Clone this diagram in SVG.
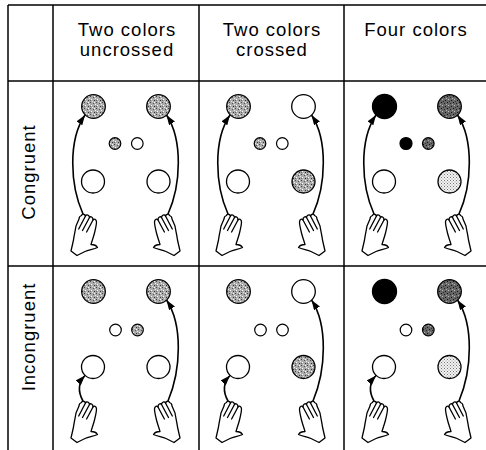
<svg xmlns="http://www.w3.org/2000/svg" xmlns:xlink="http://www.w3.org/1999/xlink" width="486" height="450" viewBox="0 0 486 450">
  <style>
    .grid { stroke: #000; stroke-width: 1.5; fill: none; }
    .lbl { font-family: "Liberation Sans", Arial, sans-serif; font-size: 18.5px; letter-spacing: 1px; fill: #000; text-anchor: middle; }
    .big { stroke: #000; stroke-width: 1.3; }
    .sm { stroke: #000; stroke-width: 1.2; }
    .white { fill: #fff; }
    .gray { fill: url(#grayStip); }
    .dark { fill: url(#darkStip); }
    .light { fill: url(#lightDot); }
    .black { fill: #000; }
    .arrow { stroke: #000; stroke-width: 1.6; fill: none; marker-end: url(#head); }
    .hand { fill: #fff; stroke: #000; stroke-width: 1.3; stroke-linejoin: round; stroke-linecap: round; }
    .finger { fill: none; stroke: #000; stroke-width: 1.3; stroke-linecap: round; }
  </style>
  <defs>
    <!-- medium grey speckle -->
    <pattern id="grayStip" width="6" height="6" patternUnits="userSpaceOnUse">
      <rect width="6" height="6" fill="#ababab"/>
      <rect x="0" y="0" width="1" height="1" fill="#444"/>
      <rect x="3" y="1" width="1" height="1" fill="#555"/>
      <rect x="1" y="3" width="1" height="1" fill="#fff"/>
      <rect x="4" y="4" width="1" height="1" fill="#333"/>
      <rect x="5" y="2" width="1" height="1" fill="#eee"/>
      <rect x="2" y="5" width="1" height="1" fill="#e0e0e0"/>
      <rect x="4" y="0" width="1" height="1" fill="#fff"/>
      <rect x="0" y="4" width="1" height="1" fill="#666"/>
    </pattern>
    <!-- dark grey speckle -->
    <pattern id="darkStip" width="6" height="6" patternUnits="userSpaceOnUse">
      <rect width="6" height="6" fill="#666"/>
      <rect x="0" y="0" width="1" height="1" fill="#111"/>
      <rect x="3" y="1" width="1" height="1" fill="#222"/>
      <rect x="1" y="3" width="1" height="1" fill="#bbb"/>
      <rect x="4" y="4" width="1" height="1" fill="#111"/>
      <rect x="5" y="2" width="1" height="1" fill="#aaa"/>
      <rect x="2" y="5" width="1" height="1" fill="#333"/>
    </pattern>
    <!-- light regular dots -->
    <pattern id="lightDot" width="3" height="3" patternUnits="userSpaceOnUse">
      <rect width="3" height="3" fill="#f2f2f2"/>
      <rect x="0" y="0" width="1" height="1" fill="#777"/>
      <rect x="1.5" y="1.5" width="1" height="1" fill="#999"/>
    </pattern>
    <marker id="head" markerUnits="userSpaceOnUse" markerWidth="11" markerHeight="8" refX="10" refY="3.5" orient="auto">
      <path d="M0,0 L10,3.5 L0,7 Z" fill="#000"/>
    </marker>
    <!-- hand outline, anchored at the fingertips; fingers lean up-right, thumb out to the right -->
    <g id="hand">
      <path class="hand" d="M-7,12 C-8,18 -9,22 -9.5,26 L-12,37 L-6,41.5 L2,37.5 C6,36 11,35 14.5,33.5 C13,31 10,30.5 8,30.5 C9,27 10.5,23 11.5,19 C12.5,15 13.5,11 13.5,8 C13.5,5 11,4.5 10,6 C10,3 7.5,2 6.5,3.5 C6.5,1 3.5,0 2.5,2 C2,0 -1,-0.5 -1.5,1.5 C-3,2 -4,4 -4,5 Z"/>
      <path class="finger" d="M10,6 L3.6,18 M6.5,3.5 L-0.5,16.5 M2.5,2 L-4.3,15"/>
    </g>
  </defs>

  <!-- table grid -->
  <g id="grid" class="grid">
    <line x1="8" y1="5" x2="486" y2="5"/>
    <line x1="8" y1="81" x2="486" y2="81"/>
    <line x1="8" y1="266" x2="486" y2="266"/>
    <line x1="8" y1="5" x2="8" y2="450"/>
    <line x1="53" y1="5" x2="53" y2="450"/>
    <line x1="199" y1="5" x2="199" y2="450"/>
    <line x1="344" y1="5" x2="344" y2="450"/>
  </g>

  <!-- column headers -->
  <g id="hdr-uncrossed">
    <text class="lbl" x="127" y="36">Two colors</text>
    <text class="lbl" x="127" y="56">uncrossed</text>
  </g>
  <g id="hdr-crossed">
    <text class="lbl" x="272" y="36">Two colors</text>
    <text class="lbl" x="272" y="56">crossed</text>
  </g>
  <g id="hdr-four">
    <text class="lbl" x="416" y="36">Four colors</text>
  </g>

  <!-- row labels -->
  <g id="row-congruent">
    <text class="lbl" transform="translate(35,172) rotate(-90)">Congruent</text>
  </g>
  <g id="row-incongruent">
    <text class="lbl" transform="translate(35,337) rotate(-90)">Incongruent</text>
  </g>

  <!-- congruent / two colors uncrossed -->
  <g id="cell-c-uncrossed">
    <circle class="big gray" cx="93.5" cy="106.5" r="11.8"/>
    <circle class="big gray" cx="158.5" cy="106.5" r="11.8"/>
    <circle class="sm gray" cx="115" cy="143.5" r="5.8"/>
    <circle class="sm white" cx="137.3" cy="143.5" r="5.8"/>
    <circle class="big white" cx="93" cy="181.5" r="11.5"/>
    <circle class="big white" cx="158.5" cy="181.5" r="11.5"/>
    <use xlink:href="#hand" href="#hand" transform="translate(83,214)"/>
    <use xlink:href="#hand" href="#hand" transform="translate(168,214) scale(-1,1)"/>
  </g>

  <!-- congruent / two colors crossed -->
  <g id="cell-c-crossed" transform="translate(145,0)">
    <circle class="big gray" cx="93.5" cy="106.5" r="11.8"/>
    <circle class="big white" cx="158.5" cy="106.5" r="11.8"/>
    <circle class="sm gray" cx="115" cy="143.5" r="5.8"/>
    <circle class="sm white" cx="137.3" cy="143.5" r="5.8"/>
    <circle class="big white" cx="93" cy="181.5" r="11.5"/>
    <circle class="big gray" cx="158.5" cy="181.5" r="11.5"/>
    <use xlink:href="#hand" href="#hand" transform="translate(83,214)"/>
    <use xlink:href="#hand" href="#hand" transform="translate(168,214) scale(-1,1)"/>
  </g>

  <!-- congruent / four colors -->
  <g id="cell-c-four" transform="translate(291,0)">
    <circle class="big black" cx="93.5" cy="106.5" r="12"/>
    <circle class="big dark" cx="158.5" cy="106.5" r="11.8"/>
    <circle class="sm black" cx="115" cy="143.5" r="6"/>
    <circle class="sm dark" cx="137.3" cy="143.5" r="5.8"/>
    <circle class="big white" cx="93" cy="181.5" r="11.5"/>
    <circle class="big light" cx="158.5" cy="181.5" r="11.5"/>
    <use xlink:href="#hand" href="#hand" transform="translate(83,214)"/>
    <use xlink:href="#hand" href="#hand" transform="translate(168,214) scale(-1,1)"/>
  </g>

  <!-- incongruent / two colors uncrossed -->
  <g id="cell-i-uncrossed" transform="translate(0,185)">
    <circle class="big gray" cx="93.5" cy="106.5" r="11.8"/>
    <circle class="big gray" cx="158.5" cy="106.5" r="11.8"/>
    <circle class="sm white" cx="115.5" cy="145" r="5.8"/>
    <circle class="sm gray" cx="137.5" cy="145" r="5.8"/>
    <circle class="big white" cx="93" cy="182" r="11.5"/>
    <circle class="big white" cx="158.5" cy="182" r="11.5"/>
    <use xlink:href="#hand" href="#hand" transform="translate(83,216)"/>
    <use xlink:href="#hand" href="#hand" transform="translate(168,216) scale(-1,1)"/>
  </g>

  <!-- incongruent / two colors crossed -->
  <g id="cell-i-crossed" transform="translate(145,185)">
    <circle class="big gray" cx="93.5" cy="106.5" r="11.8"/>
    <circle class="big white" cx="158.5" cy="106.5" r="11.8"/>
    <circle class="sm white" cx="115.5" cy="145" r="5.8"/>
    <circle class="sm white" cx="137.5" cy="145" r="5.8"/>
    <circle class="big white" cx="93" cy="182" r="11.5"/>
    <circle class="big gray" cx="158.5" cy="182" r="11.5"/>
    <use xlink:href="#hand" href="#hand" transform="translate(83,216)"/>
    <use xlink:href="#hand" href="#hand" transform="translate(168,216) scale(-1,1)"/>
  </g>

  <!-- incongruent / four colors -->
  <g id="cell-i-four" transform="translate(291,185)">
    <circle class="big black" cx="93.5" cy="106.5" r="12"/>
    <circle class="big dark" cx="158.5" cy="106.5" r="11.8"/>
    <circle class="sm white" cx="115" cy="145" r="5.8"/>
    <circle class="sm dark" cx="137.3" cy="145" r="5.8"/>
    <circle class="big white" cx="93" cy="182" r="11.5"/>
    <circle class="big light" cx="158.5" cy="182" r="11.5"/>
    <use xlink:href="#hand" href="#hand" transform="translate(83,216)"/>
    <use xlink:href="#hand" href="#hand" transform="translate(168,216) scale(-1,1)"/>
  </g>

  <!-- reach trajectories from each hand to its target -->
  <g id="connectors">
    <path class="arrow" d="M83,214 C70,185 68,140 85,115"/>
    <path class="arrow" d="M168,214 C181,185 183,140 166.5,115"/>
    <path class="arrow" d="M228,214 C215,185 213,140 230,115"/>
    <path class="arrow" d="M313,214 C326,185 328,140 311.5,115"/>
    <path class="arrow" d="M374,214 C361,185 359,140 376,115"/>
    <path class="arrow" d="M459,214 C472,185 474,140 457.5,115"/>

    <path class="arrow" d="M83,401 C78,392 78,383 85,375.5"/>
    <path class="arrow" d="M168,401 C181,370 183,325 166.5,300"/>
    <path class="arrow" d="M228,401 C223,392 223,383 230,375.5"/>
    <path class="arrow" d="M313,401 C326,370 328,325 311.5,300"/>
    <path class="arrow" d="M374,401 C369,392 369,383 376,375.5"/>
    <path class="arrow" d="M459,401 C472,370 474,325 457.5,300"/>
  </g>
</svg>
